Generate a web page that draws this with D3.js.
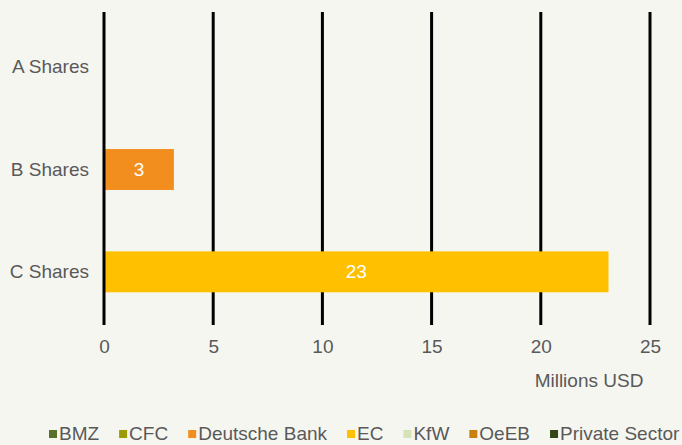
<!DOCTYPE html>
<html><head><meta charset="utf-8">
<script src="https://cdn.jsdelivr.net/npm/d3@7"></script>
<style>
html,body{margin:0;padding:0;background:#f6f6f1;}
svg{display:block;font-family:Arial,"Liberation Sans",sans-serif;}
</style></head>
<body>
<svg id="chart" width="682" height="445"></svg>
<script>
const categories = ["A Shares", "B Shares", "C Shares"];
const seriesNames = ["BMZ", "CFC", "Deutsche Bank", "EC", "KfW", "OeEB", "Private Sector"];
const seriesColors = ["#57702a", "#9c9c00", "#f28e1e", "#ffc000", "#d6e3b8", "#c8800f", "#334817"];
const BMZ = [0, 0, 0];
const CFC = [0, 0, 0];
const DeutscheBank = [0, 3.2, 0];
const EC = [0, 0, 23.1];
const KfW = [0, 0, 0];
const OeEB = [0, 0, 0];
const PrivateSector = [0, 0, 0];
const barLabels = ["", "3", "23"];
const xTicks = [0, 5, 10, 15, 20, 25];
const xTitle = "Millions USD";

const seriesValues = [BMZ, CFC, DeutscheBank, EC, KfW, OeEB, PrivateSector];
const table = categories.map((c, i) => {
  const row = {category: c};
  seriesNames.forEach((s, j) => row[s] = seriesValues[j][i]);
  return row;
});

const svg = d3.select("#chart");
const textColor = "#595959";
const fs = 19;
const x = d3.scaleLinear().domain([0, 25]).range([104, 650]);
const y = d3.scaleBand().domain(categories).range([16, 323]).paddingInner(0.6).paddingOuter(0.3);

// gridlines
svg.append("g").selectAll("line").data(xTicks.filter(t => t !== 0)).join("line")
  .attr("x1", d => x(d)).attr("x2", d => x(d)).attr("y1", 12).attr("y2", 325)
  .attr("stroke", "#000").attr("stroke-width", 3);

// bars
const stack = d3.stack().keys(seriesNames)(table);
svg.append("g").selectAll("g").data(stack).join("g")
  .attr("fill", (d, i) => seriesColors[i])
  .selectAll("rect").data(d => d).join("rect")
  .attr("x", d => x(d[0])).attr("width", d => x(d[1]) - x(d[0]))
  .attr("y", d => y(d.data.category)).attr("height", y.bandwidth());

// zero line
svg.append("line").attr("x1", x(0)).attr("x2", x(0)).attr("y1", 12).attr("y2", 325)
  .attr("stroke", "#000").attr("stroke-width", 3);

// bar labels
svg.append("g").selectAll("text").data(table).join("text")
  .attr("x", d => {
    const total = seriesNames.reduce((a, s) => a + d[s], 0);
    return x(total / 2);
  })
  .attr("y", d => y(d.category) + y.bandwidth() / 2)
  .attr("dy", "0.35em").attr("text-anchor", "middle")
  .attr("fill", "#fff").attr("font-size", fs)
  .text((d, i) => barLabels[i]);

// x axis labels
const xAxis = d3.axisBottom(x).tickValues(xTicks).tickSize(0).tickPadding(0);
const gx = svg.append("g").attr("transform", "translate(0,339)").call(xAxis);
gx.select(".domain").remove();
gx.selectAll("text").attr("font-size", fs).attr("fill", textColor).attr("font-family", "Arial,'Liberation Sans',sans-serif");

svg.append("text").attr("x", 589).attr("y", 380).attr("dy", "0.35em").attr("text-anchor", "middle")
  .attr("font-size", fs).attr("fill", textColor).text(xTitle);

// y axis labels
const yAxis = d3.axisLeft(y).tickSize(0).tickPadding(15);
const gy = svg.append("g").attr("transform", `translate(${x(0)},0)`).call(yAxis);
gy.select(".domain").remove();
gy.selectAll("text").attr("font-size", fs).attr("fill", textColor).attr("font-family", "Arial,'Liberation Sans',sans-serif");

// legend
const legend = svg.append("g");
let lx = 49;
seriesNames.forEach((s, i) => {
  legend.append("rect").attr("x", lx).attr("y", 430).attr("width", 8).attr("height", 8).attr("fill", seriesColors[i]);
  const t = legend.append("text").attr("x", lx + 10).attr("y", 433).attr("dy", "0.35em")
    .attr("font-size", fs).attr("fill", textColor).text(s);
  lx += 10 + t.node().getComputedTextLength() + 20;
});
</script>
</body></html>
